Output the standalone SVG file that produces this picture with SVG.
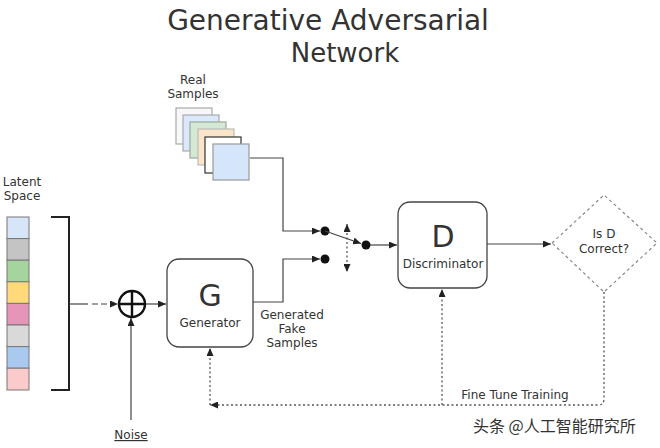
<svg xmlns="http://www.w3.org/2000/svg" width="660" height="448" viewBox="0 0 660 448">
<defs>
<marker id="ah" markerUnits="userSpaceOnUse" markerWidth="8" markerHeight="7" refX="8" refY="3.5" orient="auto"><path d="M0,0 L8,3.5 L0,7 z" fill="#222"/></marker>
<marker id="ahs" markerUnits="userSpaceOnUse" markerWidth="8" markerHeight="7" refX="0" refY="3.5" orient="auto"><path d="M8,0 L0,3.5 L8,7 z" fill="#222"/></marker>
<style>
text{font-family:"DejaVu Sans","Noto Sans",sans-serif;fill:#333;text-anchor:middle}
.t{font-size:28px}
.s{font-size:12px}
.big{font-size:30px}
.ln{fill:none;stroke:#444;stroke-width:1.2}
.dot{fill:none;stroke:#555;stroke-width:1.3;stroke-dasharray:2 2.5}
.box{fill:#fff;stroke:#444;stroke-width:1.3}
.card{stroke-width:1.2}
.cell{stroke:#777;stroke-width:1}
</style>
</defs>
<rect width="660" height="448" fill="#fff"/>
<g id="title">
<text class="t" x="328" y="30">Generative Adversarial</text>
<text class="t" x="345" y="62" style="font-size:26px">Network</text>
</g>
<g id="latent">
<text class="s" x="22" y="186">Latent</text>
<text class="s" x="22" y="200">Space</text>
<rect class="cell" x="7" y="217" width="22" height="21.6" fill="#d6e6f8"/>
<rect class="cell" x="7" y="238.6" width="22" height="21.6" fill="#c4c4c4"/>
<rect class="cell" x="7" y="260.2" width="22" height="21.6" fill="#a6d49f"/>
<rect class="cell" x="7" y="281.8" width="22" height="21.6" fill="#ffd97a"/>
<rect class="cell" x="7" y="303.4" width="22" height="21.6" fill="#e595b8"/>
<rect class="cell" x="7" y="325" width="22" height="21.6" fill="#d9d9d9"/>
<rect class="cell" x="7" y="346.6" width="22" height="21.6" fill="#a9c9ef"/>
<rect class="cell" x="7" y="368.2" width="22" height="21.8" fill="#fbcaca"/>
<path d="M51,217 H69 V390 H51" fill="none" stroke="#222" stroke-width="2"/>
</g>
<g id="real-samples">
<text class="s" x="193" y="84">Real</text>
<text class="s" x="193" y="98">Samples</text>
<rect class="card" x="176" y="108" width="36" height="36" fill="#f7f7fa" stroke="#aaa"/>
<rect class="card" x="183" y="115" width="36" height="36" fill="#dae8fc" stroke="#aaa"/>
<rect class="card" x="190" y="122" width="36" height="36" fill="#d5e8d4" stroke="#9a9"/>
<rect class="card" x="198" y="129" width="36" height="36" fill="#fbe5c8" stroke="#bbb"/>
<rect class="card" x="205" y="137" width="36" height="36" fill="#fff" stroke="#333"/>
<rect class="card" x="213" y="144" width="36" height="36" fill="#d6e6fa" stroke="#999"/>
</g>
<g id="sum">
<circle cx="132" cy="304" r="13" fill="#fff" stroke="#111" stroke-width="2.4"/>
<path d="M119,304 H145 M132,291 V317" stroke="#111" stroke-width="2.4"/>
</g>
<g id="noise">
<text class="s" x="131" y="439" text-decoration="underline">Noise</text>
</g>
<g id="generator">
<rect class="box" x="167" y="259" width="86" height="88" rx="12"/>
<text class="big" x="210" y="306">G</text>
<text class="s" x="210" y="327">Generator</text>
</g>
<g id="fake-label">
<text class="s" x="292" y="319">Generated</text>
<text class="s" x="292" y="333">Fake</text>
<text class="s" x="292" y="347">Samples</text>
</g>
<g id="switch">
<circle cx="325" cy="231" r="4.5" fill="#111"/>
<circle cx="325" cy="259" r="4.5" fill="#111"/>
<circle cx="366" cy="245" r="4.5" fill="#111"/>
</g>
<g id="discriminator">
<rect class="box" x="398" y="202" width="89" height="86" rx="12"/>
<text class="big" x="443" y="247">D</text>
<text class="s" x="443" y="268">Discriminator</text>
</g>
<g id="decision">
<polygon points="552,243 604,195 657,243 604,292" fill="#fff" stroke="#888" stroke-width="1.2" stroke-dasharray="3 3"/>
<text class="s" x="604" y="238">Is D</text>
<text class="s" x="604" y="253">Correct?</text>
</g>
<g id="connectors">
<path class="ln" d="M69,304 H88" stroke="#222"/>
<path class="ln" d="M92,304 H118" stroke-dasharray="6 3" marker-end="url(#ah)"/>
<path class="ln" d="M131,420 V318" marker-end="url(#ah)"/>
<path class="ln" d="M146,304 H166" marker-end="url(#ah)"/>
<path class="ln" d="M253,302 H283 V259 H320" marker-end="url(#ah)"/>
<path class="ln" d="M250,158 H283 V231 H320" marker-end="url(#ah)"/>
<path class="ln" d="M325,231 L361,243.5" marker-end="url(#ah)"/>
<path class="dot" d="M347,224 V272" marker-start="url(#ahs)" marker-end="url(#ah)"/>
<path class="ln" d="M370,245 H397" marker-end="url(#ah)"/>
<path class="ln" d="M487,244 H551" marker-end="url(#ah)"/>
<path class="dot" d="M604,292 V399 Q604,405 598,405 H210" marker-end="url(#ah)"/>
<path class="dot" d="M210,405 V348" marker-end="url(#ah)"/>
<path class="dot" d="M442,405 V289" marker-end="url(#ah)"/>
<text class="s" x="515" y="399">Fine Tune Training</text>
</g>
<g id="watermark">
<text x="473" y="432" style="text-anchor:start;font-family:'Noto Sans CJK SC',sans-serif;font-size:16px;fill:#333">头条 @人工智能研究所</text>
</g>
</svg>
